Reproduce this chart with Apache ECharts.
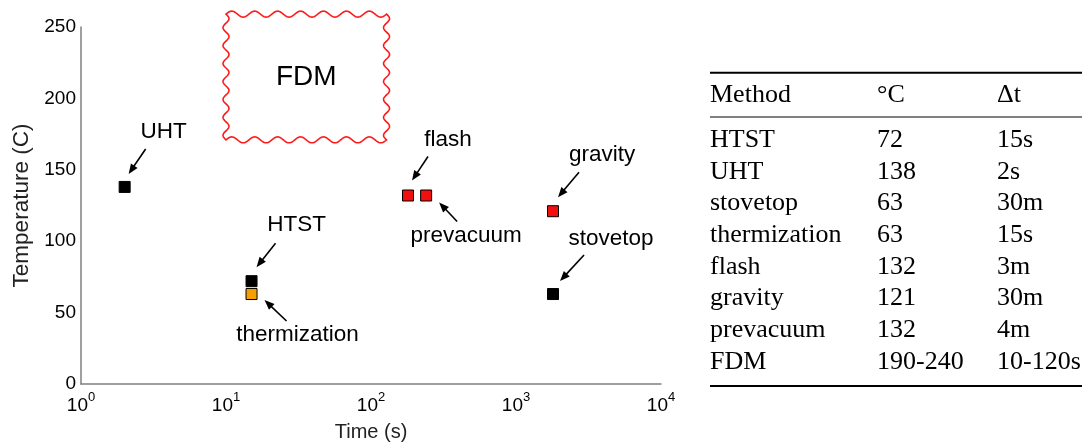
<!DOCTYPE html>
<html>
<head>
<meta charset="utf-8">
<script src="https://cdn.jsdelivr.net/npm/echarts@6/dist/echarts.min.js"></script>
<style>html,body{margin:0;padding:0;background:#fff;}#c{width:1092px;height:447px;}</style>
</head>
<body>
<div id="c"></div>
<script>
// ---- data ----
const pointNames = ['UHT', 'HTST', 'thermization', 'flash', 'prevacuum', 'gravity', 'stovetop'];
const pointTimes = [2, 15, 15, 180, 240, 1800, 1800];
const pointTemps = [138, 72, 63, 132, 132, 121, 63];
const pointGroups = ['black', 'black', 'orange', 'red', 'red', 'red', 'black'];

const fdmTimeRange = [10, 128];
const fdmTempRange = [171, 259];
const fdmLabel = 'FDM';

const yTicks = [0, 50, 100, 150, 200, 250];
const xTickExponents = [0, 1, 2, 3, 4];

const tableHeader = ['Method', '\u00B0C', '\u0394t'];
const tableMethods = ['HTST', 'UHT', 'stovetop', 'thermization', 'flash', 'gravity', 'prevacuum', 'FDM'];
const tableTemps = ['72', '138', '63', '63', '132', '121', '132', '190-240'];
const tableTimes = ['15s', '2s', '30m', '15s', '3m', '30m', '4m', '10-120s'];

// ---- styles ----
const groupColors = { black: '#000000', orange: '#f5a000', red: '#f01010' };
// label/arrow offsets in pixels relative to the marker centre
const annot = {
  UHT:          { lx: 39, ly: -55, tx: 21, ty: -38, hx: 4,  hy: -13 },
  HTST:         { lx: 45, ly: -56, tx: 24, ty: -38, hx: 5,  hy: -14 },
  thermization: { lx: 46, ly: 41,  tx: 35, ty: 27,  hx: 13, hy: 6 },
  flash:        { lx: 40, ly: -56, tx: 20, ty: -39, hx: 4,  hy: -15 },
  prevacuum:    { lx: 40, ly: 40,  tx: 31, ty: 26,  hx: 13, hy: 7 },
  gravity:      { lx: 49, ly: -56, tx: 26, ty: -39, hx: 5,  hy: -14 },
  stovetop:     { lx: 58, ly: -55, tx: 31, ty: -39, hx: 7,  hy: -13 }
};
const SANS = 'Liberation Sans, Arial, sans-serif';
const SERIF = 'Liberation Serif, Times New Roman, serif';

const chart = echarts.init(document.getElementById('c'));

function arrowShapes(T, H) {
  const dx = H[0] - T[0], dy = H[1] - T[1];
  const len = Math.sqrt(dx * dx + dy * dy);
  const ux = dx / len, uy = dy / len;
  const nx = -uy, ny = ux;
  const L = 10, W = 8;
  const bx = H[0] - ux * L, by = H[1] - uy * L;
  return [
    { type: 'line', shape: { x1: T[0], y1: T[1], x2: bx + ux * 2, y2: by + uy * 2 }, style: { stroke: '#000', lineWidth: 1.6 } },
    { type: 'polygon', shape: { points: [[H[0], H[1]], [bx + nx * W / 2, by + ny * W / 2], [bx - nx * W / 2, by - ny * W / 2]] }, style: { fill: '#000' } }
  ];
}

function wavyBox(x0, y0, x1, y1) {
  const pts = [];
  const A = 3;
  function edge(ax, ay, bx, by, nx, ny, periods) {
    const N = periods * 24;
    for (let i = 0; i < N; i++) {
      const t = i / N;
      const off = A * Math.sin(2 * Math.PI * periods * t);
      pts.push([ax + (bx - ax) * t + nx * off, ay + (by - ay) * t + ny * off]);
    }
  }
  edge(x0, y0, x1, y0, 0, -1, 7);
  edge(x1, y0, x1, y1, 1, 0, 7);
  edge(x1, y1, x0, y1, 0, 1, 7);
  edge(x0, y1, x0, y0, -1, 0, 7);
  return pts;
}

const scatterData = pointNames.map((n, i) => ({
  name: n,
  value: [pointTimes[i], pointTemps[i]],
  itemStyle: { color: groupColors[pointGroups[i]], borderColor: '#000', borderWidth: 1, opacity: 1 }
}));

const annotData = pointNames.map((n, i) => [pointTimes[i], pointTemps[i], i]);

const graphics = [];
const colX = [710, 877, 997];
const headerY = 95;
const rowY0 = 140, rowStep = 31.7;
const tableFont = '26px ' + SERIF;
tableHeader.forEach((t, j) => graphics.push({
  type: 'text', x: colX[j], y: headerY,
  style: { text: t, font: tableFont, fill: '#000', align: 'left', verticalAlign: 'middle' }
}));
tableMethods.forEach((m, i) => {
  [m, tableTemps[i], tableTimes[i]].forEach((t, j) => graphics.push({
    type: 'text', x: colX[j], y: rowY0 + i * rowStep,
    style: { text: t, font: tableFont, fill: '#000', align: 'left', verticalAlign: 'middle' }
  }));
});
[[72.7, 2], [117, 1], [386, 2]].forEach(r => graphics.push({
  type: 'line', shape: { x1: 710, y1: r[0], x2: 1082, y2: r[0] }, style: { stroke: '#000', lineWidth: r[1] }
}));

chart.setOption({
  animation: false,
  backgroundColor: '#fff',
  grid: { left: 81, right: 431, top: 27, bottom: 60, containLabel: false },
  xAxis: {
    type: 'log', logBase: 10, min: Math.pow(10, xTickExponents[0]), max: Math.pow(10, xTickExponents[xTickExponents.length - 1]),
    name: 'Time (s)', nameLocation: 'middle', nameGap: 38,
    nameTextStyle: { fontFamily: SANS, fontSize: 20, color: '#222' },
    axisLine: { show: true, lineStyle: { color: '#808080', width: 1.5 } },
    axisTick: { show: false },
    splitLine: { show: false },
    axisLabel: {
      margin: 7,
      formatter: v => {
        const e = Math.round(Math.log10(v));
        return '{b|10}{s|' + e + '}';
      },
      rich: {
        b: { fontFamily: SANS, fontSize: 19, color: '#000', verticalAlign: 'bottom' },
        s: { fontFamily: SANS, fontSize: 13, color: '#000', padding: [0, 0, 11, 0], verticalAlign: 'bottom' }
      }
    }
  },
  yAxis: {
    type: 'value', min: yTicks[0], max: yTicks[yTicks.length - 1], interval: yTicks[1] - yTicks[0],
    name: 'Temperature (C)', nameLocation: 'middle', nameGap: 48, nameRotate: 90,
    nameTextStyle: { fontFamily: SANS, fontSize: 22.5, color: '#222' },
    axisLine: { show: true, lineStyle: { color: '#808080', width: 1.5 } },
    axisTick: { show: false },
    splitLine: { show: false },
    axisLabel: { margin: 5, fontFamily: SANS, fontSize: 19, color: '#000' }
  },
  series: [
    {
      type: 'custom',
      silent: true,
      clip: false,
      data: [[fdmTimeRange[0], fdmTimeRange[1], fdmTempRange[0], fdmTempRange[1]]],
      encode: { x: [0, 1], y: [2, 3] },
      renderItem: (params, api) => {
        const p0 = api.coord([api.value(0), api.value(3)]);
        const p1 = api.coord([api.value(1), api.value(2)]);
        return {
          type: 'group',
          children: [
            { type: 'polygon', shape: { points: wavyBox(p0[0], p0[1], p1[0], p1[1]) }, style: { fill: 'none', stroke: '#ff1a1a', lineWidth: 1.6 } },
            { type: 'text', style: { text: fdmLabel, x: (p0[0] + p1[0]) / 2, y: (p0[1] + p1[1]) / 2, align: 'center', verticalAlign: 'middle', font: '28px ' + SANS, fill: '#000' } }
          ]
        };
      }
    },
    {
      type: 'scatter',
      symbol: 'rect',
      symbolSize: 11,
      data: scatterData,
      itemStyle: { opacity: 1 },
      z: 5
    },
    {
      type: 'custom',
      silent: true,
      clip: false,
      data: annotData,
      encode: { x: 0, y: 1 },
      renderItem: (params, api) => {
        const p = api.coord([api.value(0), api.value(1)]);
        const name = pointNames[api.value(2)];
        const o = annot[name];
        const children = arrowShapes([p[0] + o.tx, p[1] + o.ty], [p[0] + o.hx, p[1] + o.hy]);
        children.push({ type: 'text', style: { text: name, x: p[0] + o.lx, y: p[1] + o.ly, align: 'center', verticalAlign: 'middle', font: '22.5px ' + SANS, fill: '#000' } });
        return { type: 'group', children: children };
      }
    }
  ],
  graphic: graphics
});
</script>
</body>
</html>
